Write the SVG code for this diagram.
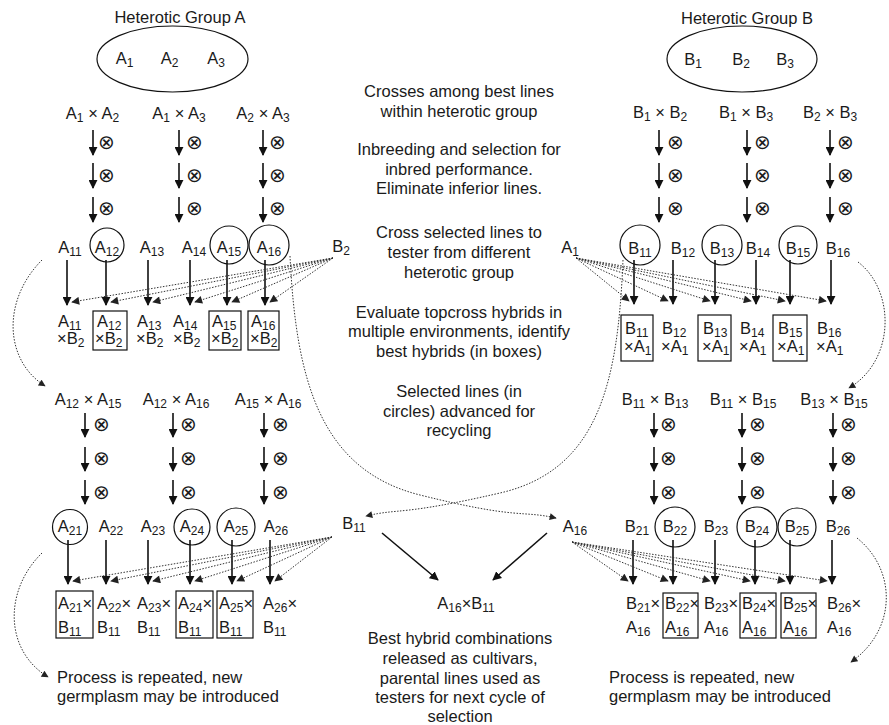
<svg xmlns="http://www.w3.org/2000/svg" width="889" height="725" viewBox="0 0 889 725">
<defs>
<marker id="ah" viewBox="0 0 10 10" refX="9" refY="5" markerUnits="userSpaceOnUse" markerWidth="9" markerHeight="9" orient="auto"><path d="M0,0 L10,5 L0,10 z" fill="#111"/></marker>
<marker id="ahd" viewBox="0 0 10 10" refX="9" refY="5" markerUnits="userSpaceOnUse" markerWidth="9" markerHeight="8" orient="auto"><path d="M0,0 L10,5 L0,10 z" fill="#222"/></marker>
<marker id="ahs" viewBox="0 0 10 10" refX="9" refY="5" markerUnits="userSpaceOnUse" markerWidth="8" markerHeight="7" orient="auto"><path d="M0,0 L10,5 L0,10 z" fill="#222"/></marker>
</defs>
<style>
text{font-family:"Liberation Sans",Arial,sans-serif;font-size:16.5px;fill:#1a1a1a}
.c{text-anchor:middle}
.s{font-size:12px}
.x{font-family:"DejaVu Sans",sans-serif;font-size:20px;font-weight:200;text-anchor:middle}
.sol{stroke:#111;stroke-width:1.6;fill:none;marker-end:url(#ah)}
.dot{stroke:#333;stroke-width:1;stroke-dasharray:1.5 1.5;fill:none;marker-end:url(#ahd)}
.cur{stroke:#333;stroke-width:1;stroke-dasharray:1.5 1.5;fill:none;marker-end:url(#ahs)}
.shape{fill:none;stroke:#111;stroke-width:1.2}
</style>
<rect width="889" height="725" fill="#fff"/>

<g id="groupA">
<text class="c" x="180" y="23">Heterotic Group A</text>
<ellipse class="shape" cx="172.5" cy="59" rx="75.5" ry="33"/>
<text class="c" x="124.5" y="64">A<tspan class="s" dy="3">1</tspan></text>
<text class="c" x="169.5" y="64">A<tspan class="s" dy="3">2</tspan></text>
<text class="c" x="216" y="64">A<tspan class="s" dy="3">3</tspan></text>
</g>
<g id="groupB">
<text class="c" x="747" y="24">Heterotic Group B</text>
<ellipse class="shape" cx="742" cy="59" rx="75" ry="33"/>
<text class="c" x="693" y="65">B<tspan class="s" dy="3">1</tspan></text>
<text class="c" x="741" y="65">B<tspan class="s" dy="3">2</tspan></text>
<text class="c" x="785" y="65">B<tspan class="s" dy="3">3</tspan></text>
</g>

<g id="crossesA1">
<text class="c" x="92.5" y="119">A<tspan class="s" dy="3">1</tspan><tspan dy="-3"> × A</tspan><tspan class="s" dy="3">2</tspan></text>
<text class="c" x="179" y="119">A<tspan class="s" dy="3">1</tspan><tspan dy="-3"> × A</tspan><tspan class="s" dy="3">3</tspan></text>
<text class="c" x="263" y="119">A<tspan class="s" dy="3">2</tspan><tspan dy="-3"> × A</tspan><tspan class="s" dy="3">3</tspan></text>
</g>
<g id="crossesB1">
<text class="c" x="660" y="118">B<tspan class="s" dy="3">1</tspan><tspan dy="-3"> × B</tspan><tspan class="s" dy="3">2</tspan></text>
<text class="c" x="746" y="118">B<tspan class="s" dy="3">1</tspan><tspan dy="-3"> × B</tspan><tspan class="s" dy="3">3</tspan></text>
<text class="c" x="830" y="118">B<tspan class="s" dy="3">2</tspan><tspan dy="-3"> × B</tspan><tspan class="s" dy="3">3</tspan></text>
</g>

<g id="selfing">
<text class="x" x="106" y="149">⊗</text><text class="x" x="106" y="182">⊗</text><text class="x" x="106" y="215">⊗</text>
<text class="x" x="194" y="149">⊗</text><text class="x" x="194" y="182">⊗</text><text class="x" x="194" y="215">⊗</text>
<text class="x" x="277" y="149">⊗</text><text class="x" x="277" y="182">⊗</text><text class="x" x="277" y="215">⊗</text>
<text class="x" x="675" y="149">⊗</text><text class="x" x="675" y="182">⊗</text><text class="x" x="675" y="215">⊗</text>
<text class="x" x="762" y="149">⊗</text><text class="x" x="762" y="182">⊗</text><text class="x" x="762" y="215">⊗</text>
<text class="x" x="845" y="149">⊗</text><text class="x" x="845" y="182">⊗</text><text class="x" x="845" y="215">⊗</text>
<text class="x" x="101" y="431">⊗</text><text class="x" x="101" y="465">⊗</text><text class="x" x="101" y="499">⊗</text>
<text class="x" x="188" y="431">⊗</text><text class="x" x="188" y="465">⊗</text><text class="x" x="188" y="499">⊗</text>
<text class="x" x="280" y="431">⊗</text><text class="x" x="280" y="465">⊗</text><text class="x" x="280" y="499">⊗</text>
<text class="x" x="668" y="431">⊗</text><text class="x" x="668" y="465">⊗</text><text class="x" x="668" y="499">⊗</text>
<text class="x" x="757" y="431">⊗</text><text class="x" x="757" y="465">⊗</text><text class="x" x="757" y="499">⊗</text>
<text class="x" x="848" y="431">⊗</text><text class="x" x="848" y="465">⊗</text><text class="x" x="848" y="499">⊗</text>
</g>

<g id="linesA1">
<circle class="shape" cx="107" cy="245" r="17"/>
<circle class="shape" cx="229" cy="245" r="19"/>
<circle class="shape" cx="269" cy="245" r="20"/>
<text class="c" x="70" y="253">A<tspan class="s" dy="3">11</tspan></text>
<text class="c" x="107" y="253">A<tspan class="s" dy="3">12</tspan></text>
<text class="c" x="152" y="253">A<tspan class="s" dy="3">13</tspan></text>
<text class="c" x="194" y="253">A<tspan class="s" dy="3">14</tspan></text>
<text class="c" x="229" y="253">A<tspan class="s" dy="3">15</tspan></text>
<text class="c" x="269" y="253">A<tspan class="s" dy="3">16</tspan></text>
</g>
<g id="testerB2"><text class="c" x="341" y="252">B<tspan class="s" dy="3">2</tspan></text></g>

<g id="linesB1">
<circle class="shape" cx="640" cy="245" r="20"/>
<circle class="shape" cx="722" cy="245" r="20"/>
<circle class="shape" cx="798" cy="245" r="19"/>
<text class="c" x="640" y="254">B<tspan class="s" dy="3">11</tspan></text>
<text class="c" x="683" y="254">B<tspan class="s" dy="3">12</tspan></text>
<text class="c" x="722" y="254">B<tspan class="s" dy="3">13</tspan></text>
<text class="c" x="758" y="254">B<tspan class="s" dy="3">14</tspan></text>
<text class="c" x="798" y="254">B<tspan class="s" dy="3">15</tspan></text>
<text class="c" x="838" y="254">B<tspan class="s" dy="3">16</tspan></text>
</g>
<g id="testerA1"><text class="c" x="570" y="253">A<tspan class="s" dy="3">1</tspan></text></g>

<g id="topcrossA">
<rect class="shape" x="93" y="311" width="34" height="39"/>
<rect class="shape" x="209" y="311" width="32" height="39"/>
<rect class="shape" x="248" y="311" width="31" height="39"/>
<text x="58" y="327">A<tspan class="s" dy="3">11</tspan></text><text x="57" y="344">×B<tspan class="s" dy="3">2</tspan></text>
<text x="97" y="327">A<tspan class="s" dy="3">12</tspan></text><text x="95" y="344">×B<tspan class="s" dy="3">2</tspan></text>
<text x="137" y="327">A<tspan class="s" dy="3">13</tspan></text><text x="136" y="344">×B<tspan class="s" dy="3">2</tspan></text>
<text x="173" y="327">A<tspan class="s" dy="3">14</tspan></text><text x="173" y="344">×B<tspan class="s" dy="3">2</tspan></text>
<text x="212" y="327">A<tspan class="s" dy="3">15</tspan></text><text x="211" y="344">×B<tspan class="s" dy="3">2</tspan></text>
<text x="251" y="327">A<tspan class="s" dy="3">16</tspan></text><text x="250" y="344">×B<tspan class="s" dy="3">2</tspan></text>
</g>
<g id="topcrossB">
<rect class="shape" x="621" y="315" width="32" height="46"/>
<rect class="shape" x="698" y="315" width="33" height="46"/>
<rect class="shape" x="773" y="315" width="34" height="46"/>
<text x="625" y="334">B<tspan class="s" dy="3">11</tspan></text><text x="624" y="352">×A<tspan class="s" dy="3">1</tspan></text>
<text x="662" y="334">B<tspan class="s" dy="3">12</tspan></text><text x="661" y="352">×A<tspan class="s" dy="3">1</tspan></text>
<text x="703" y="334">B<tspan class="s" dy="3">13</tspan></text><text x="702" y="352">×A<tspan class="s" dy="3">1</tspan></text>
<text x="740" y="334">B<tspan class="s" dy="3">14</tspan></text><text x="739" y="352">×A<tspan class="s" dy="3">1</tspan></text>
<text x="778" y="334">B<tspan class="s" dy="3">15</tspan></text><text x="777" y="352">×A<tspan class="s" dy="3">1</tspan></text>
<text x="817" y="334">B<tspan class="s" dy="3">16</tspan></text><text x="816" y="352">×A<tspan class="s" dy="3">1</tspan></text>
</g>

<g id="crossesA2">
<text class="c" x="88" y="405">A<tspan class="s" dy="3">12</tspan><tspan dy="-3"> × A</tspan><tspan class="s" dy="3">15</tspan></text>
<text class="c" x="176" y="405">A<tspan class="s" dy="3">12</tspan><tspan dy="-3"> × A</tspan><tspan class="s" dy="3">16</tspan></text>
<text class="c" x="268" y="405">A<tspan class="s" dy="3">15</tspan><tspan dy="-3"> × A</tspan><tspan class="s" dy="3">16</tspan></text>
</g>
<g id="crossesB2">
<text class="c" x="655" y="405">B<tspan class="s" dy="3">11</tspan><tspan dy="-3"> × B</tspan><tspan class="s" dy="3">13</tspan></text>
<text class="c" x="743" y="405">B<tspan class="s" dy="3">11</tspan><tspan dy="-3"> × B</tspan><tspan class="s" dy="3">15</tspan></text>
<text class="c" x="834" y="405">B<tspan class="s" dy="3">13</tspan><tspan dy="-3"> × B</tspan><tspan class="s" dy="3">15</tspan></text>
</g>

<g id="linesA2">
<circle class="shape" cx="70" cy="527" r="17.5"/>
<circle class="shape" cx="192" cy="527" r="18"/>
<circle class="shape" cx="236" cy="527" r="19"/>
<text class="c" x="70" y="532">A<tspan class="s" dy="3">21</tspan></text>
<text class="c" x="111" y="532">A<tspan class="s" dy="3">22</tspan></text>
<text class="c" x="153" y="532">A<tspan class="s" dy="3">23</tspan></text>
<text class="c" x="192" y="532">A<tspan class="s" dy="3">24</tspan></text>
<text class="c" x="236" y="532">A<tspan class="s" dy="3">25</tspan></text>
<text class="c" x="276" y="532">A<tspan class="s" dy="3">26</tspan></text>
</g>
<g id="testerB11"><text class="c" x="354" y="529">B<tspan class="s" dy="3">11</tspan></text></g>

<g id="linesB2">
<circle class="shape" cx="675" cy="527" r="20"/>
<circle class="shape" cx="757" cy="527" r="20"/>
<circle class="shape" cx="797" cy="527" r="19"/>
<text class="c" x="637" y="532">B<tspan class="s" dy="3">21</tspan></text>
<text class="c" x="675" y="532">B<tspan class="s" dy="3">22</tspan></text>
<text class="c" x="716" y="532">B<tspan class="s" dy="3">23</tspan></text>
<text class="c" x="757" y="532">B<tspan class="s" dy="3">24</tspan></text>
<text class="c" x="797" y="532">B<tspan class="s" dy="3">25</tspan></text>
<text class="c" x="838" y="532">B<tspan class="s" dy="3">26</tspan></text>
</g>
<g id="testerA16"><text class="c" x="575" y="532">A<tspan class="s" dy="3">16</tspan></text></g>

<g id="topcrossA2">
<rect class="shape" x="56" y="591" width="37" height="47"/>
<rect class="shape" x="176" y="591" width="37" height="47"/>
<rect class="shape" x="217" y="591" width="36" height="47"/>
<text x="58" y="609">A<tspan class="s" dy="3">21</tspan><tspan dy="-3">×</tspan></text><text x="58" y="633">B<tspan class="s" dy="3">11</tspan></text>
<text x="97" y="609">A<tspan class="s" dy="3">22</tspan><tspan dy="-3">×</tspan></text><text x="97" y="633">B<tspan class="s" dy="3">11</tspan></text>
<text x="137" y="609">A<tspan class="s" dy="3">23</tspan><tspan dy="-3">×</tspan></text><text x="137" y="633">B<tspan class="s" dy="3">11</tspan></text>
<text x="178" y="609">A<tspan class="s" dy="3">24</tspan><tspan dy="-3">×</tspan></text><text x="178" y="633">B<tspan class="s" dy="3">11</tspan></text>
<text x="219" y="609">A<tspan class="s" dy="3">25</tspan><tspan dy="-3">×</tspan></text><text x="219" y="633">B<tspan class="s" dy="3">11</tspan></text>
<text x="263" y="609">A<tspan class="s" dy="3">26</tspan><tspan dy="-3">×</tspan></text><text x="263" y="633">B<tspan class="s" dy="3">11</tspan></text>
</g>
<g id="topcrossB2">
<rect class="shape" x="663" y="593" width="35" height="45"/>
<rect class="shape" x="740" y="593" width="36" height="45"/>
<rect class="shape" x="781" y="593" width="35" height="45"/>
<text x="626" y="609">B<tspan class="s" dy="3">21</tspan><tspan dy="-3">×</tspan></text><text x="626" y="633">A<tspan class="s" dy="3">16</tspan></text>
<text x="665" y="609">B<tspan class="s" dy="3">22</tspan><tspan dy="-3">×</tspan></text><text x="665" y="633">A<tspan class="s" dy="3">16</tspan></text>
<text x="704" y="609">B<tspan class="s" dy="3">23</tspan><tspan dy="-3">×</tspan></text><text x="704" y="633">A<tspan class="s" dy="3">16</tspan></text>
<text x="742" y="609">B<tspan class="s" dy="3">24</tspan><tspan dy="-3">×</tspan></text><text x="742" y="633">A<tspan class="s" dy="3">16</tspan></text>
<text x="783" y="609">B<tspan class="s" dy="3">25</tspan><tspan dy="-3">×</tspan></text><text x="783" y="633">A<tspan class="s" dy="3">16</tspan></text>
<text x="827" y="609">B<tspan class="s" dy="3">26</tspan><tspan dy="-3">×</tspan></text><text x="827" y="633">A<tspan class="s" dy="3">16</tspan></text>
</g>

<g id="finalHybrid"><text class="c" x="466" y="609">A<tspan class="s" dy="3">16</tspan><tspan dy="-3">×B</tspan><tspan class="s" dy="3">11</tspan></text></g>

<g id="notes">
<text class="c" x="459" y="97">Crosses among best lines</text>
<text class="c" x="459" y="117">within heterotic group</text>
<text class="c" x="459" y="155">Inbreeding and selection for</text>
<text class="c" x="459" y="175">inbred performance.</text>
<text class="c" x="459" y="194">Eliminate inferior lines.</text>
<text class="c" x="459" y="238">Cross selected lines to</text>
<text class="c" x="459" y="258">tester from different</text>
<text class="c" x="459" y="278">heterotic group</text>
<text class="c" x="459" y="318">Evaluate topcross hybrids in</text>
<text class="c" x="459" y="337">multiple environments, identify</text>
<text class="c" x="459" y="357">best hybrids (in boxes)</text>
<text class="c" x="459" y="397">Selected lines (in</text>
<text class="c" x="459" y="417">circles) advanced for</text>
<text class="c" x="459" y="436">recycling</text>
<text class="c" x="460" y="644">Best hybrid combinations</text>
<text class="c" x="460" y="664">released as cultivars,</text>
<text class="c" x="460" y="684">parental lines used as</text>
<text class="c" x="460" y="703">testers for next cycle of</text>
<text class="c" x="460" y="722">selection</text>
<text x="57" y="683">Process is repeated, new</text>
<text x="57" y="702">germplasm may be introduced</text>
<text x="609" y="683">Process is repeated, new</text>
<text x="609" y="702">germplasm may be introduced</text>
</g>

<g id="connectors">
<line class="sol" x1="93" y1="130" x2="93" y2="155"/><line class="sol" x1="93" y1="163" x2="93" y2="188"/><line class="sol" x1="93" y1="197" x2="93" y2="222"/>
<line class="sol" x1="179" y1="130" x2="179" y2="155"/><line class="sol" x1="179" y1="163" x2="179" y2="188"/><line class="sol" x1="179" y1="197" x2="179" y2="222"/>
<line class="sol" x1="263" y1="130" x2="263" y2="155"/><line class="sol" x1="263" y1="163" x2="263" y2="188"/><line class="sol" x1="263" y1="197" x2="263" y2="222"/>
<line class="sol" x1="659" y1="130" x2="659" y2="155"/><line class="sol" x1="659" y1="163" x2="659" y2="188"/><line class="sol" x1="659" y1="197" x2="659" y2="222"/>
<line class="sol" x1="747" y1="130" x2="747" y2="155"/><line class="sol" x1="747" y1="163" x2="747" y2="188"/><line class="sol" x1="747" y1="197" x2="747" y2="222"/>
<line class="sol" x1="830" y1="130" x2="830" y2="155"/><line class="sol" x1="830" y1="163" x2="830" y2="188"/><line class="sol" x1="830" y1="197" x2="830" y2="222"/>
<line class="sol" x1="85" y1="413" x2="85" y2="437"/><line class="sol" x1="85" y1="447" x2="85" y2="471"/><line class="sol" x1="85" y1="480" x2="85" y2="504"/>
<line class="sol" x1="173" y1="413" x2="173" y2="437"/><line class="sol" x1="173" y1="447" x2="173" y2="471"/><line class="sol" x1="173" y1="480" x2="173" y2="504"/>
<line class="sol" x1="264" y1="413" x2="264" y2="437"/><line class="sol" x1="264" y1="447" x2="264" y2="471"/><line class="sol" x1="264" y1="480" x2="264" y2="504"/>
<line class="sol" x1="654" y1="413" x2="654" y2="437"/><line class="sol" x1="654" y1="447" x2="654" y2="471"/><line class="sol" x1="654" y1="480" x2="654" y2="504"/>
<line class="sol" x1="742" y1="413" x2="742" y2="437"/><line class="sol" x1="742" y1="447" x2="742" y2="471"/><line class="sol" x1="742" y1="480" x2="742" y2="504"/>
<line class="sol" x1="833" y1="413" x2="833" y2="437"/><line class="sol" x1="833" y1="447" x2="833" y2="471"/><line class="sol" x1="833" y1="480" x2="833" y2="504"/>
<line class="sol" x1="67" y1="260" x2="67" y2="305"/><line class="sol" x1="106" y1="260" x2="106" y2="305"/><line class="sol" x1="148" y1="260" x2="148" y2="305"/>
<line class="sol" x1="190" y1="260" x2="190" y2="305"/><line class="sol" x1="227" y1="260" x2="227" y2="305"/><line class="sol" x1="265" y1="260" x2="265" y2="305"/>
<line class="dot" x1="333" y1="258" x2="72" y2="302"/><line class="dot" x1="333" y1="258" x2="111" y2="302"/><line class="dot" x1="333" y1="258" x2="153" y2="302"/>
<line class="dot" x1="333" y1="258" x2="195" y2="302"/><line class="dot" x1="333" y1="258" x2="232" y2="302"/><line class="dot" x1="333" y1="258" x2="270" y2="302"/>
<line class="sol" x1="634" y1="260" x2="634" y2="304"/><line class="sol" x1="673" y1="260" x2="673" y2="304"/><line class="sol" x1="715" y1="260" x2="715" y2="304"/>
<line class="sol" x1="756" y1="260" x2="756" y2="304"/><line class="sol" x1="790" y1="260" x2="790" y2="304"/><line class="sol" x1="831" y1="260" x2="831" y2="304"/>
<line class="dot" x1="576" y1="258" x2="629" y2="301"/><line class="dot" x1="576" y1="258" x2="668" y2="301"/><line class="dot" x1="576" y1="258" x2="710" y2="301"/>
<line class="dot" x1="576" y1="258" x2="751" y2="301"/><line class="dot" x1="576" y1="258" x2="785" y2="301"/><line class="dot" x1="576" y1="258" x2="826" y2="301"/>
<line class="sol" x1="68" y1="540" x2="68" y2="584"/><line class="sol" x1="106" y1="540" x2="106" y2="584"/><line class="sol" x1="148" y1="540" x2="148" y2="584"/>
<line class="sol" x1="190" y1="540" x2="190" y2="584"/><line class="sol" x1="232" y1="540" x2="232" y2="584"/><line class="sol" x1="270" y1="540" x2="270" y2="584"/>
<line class="dot" x1="332" y1="537" x2="73" y2="581"/><line class="dot" x1="332" y1="537" x2="111" y2="581"/><line class="dot" x1="332" y1="537" x2="153" y2="581"/>
<line class="dot" x1="332" y1="537" x2="195" y2="581"/><line class="dot" x1="332" y1="537" x2="237" y2="581"/><line class="dot" x1="332" y1="537" x2="275" y2="581"/>
<line class="sol" x1="633" y1="540" x2="633" y2="584"/><line class="sol" x1="673" y1="540" x2="673" y2="584"/><line class="sol" x1="715" y1="540" x2="715" y2="584"/>
<line class="sol" x1="755" y1="540" x2="755" y2="584"/><line class="sol" x1="790" y1="540" x2="790" y2="584"/><line class="sol" x1="832" y1="540" x2="832" y2="584"/>
<line class="dot" x1="572" y1="542" x2="628" y2="581"/><line class="dot" x1="572" y1="542" x2="668" y2="581"/><line class="dot" x1="572" y1="542" x2="710" y2="581"/>
<line class="dot" x1="572" y1="542" x2="750" y2="581"/><line class="dot" x1="572" y1="542" x2="785" y2="581"/><line class="dot" x1="572" y1="542" x2="827" y2="581"/>
<path class="cur" d="M42,260 C2,300 4,360 45,386"/>
<path class="cur" d="M858,262 C895,290 896,360 849,388"/>
<path class="cur" d="M42,553 C4,590 4,650 48,677"/>
<path class="cur" d="M857,538 C897,570 897,630 851,662"/>
<path class="cur" d="M290,256 C296,380 320,470 420,495 S520,510 556,518"/>
<path class="cur" d="M623,260 C618,380 600,470 500,493 S400,508 366,516"/>
<line class="sol" x1="382" y1="533" x2="438" y2="580"/>
<line class="sol" x1="547" y1="533" x2="493" y2="580"/>
</g>
</svg>
